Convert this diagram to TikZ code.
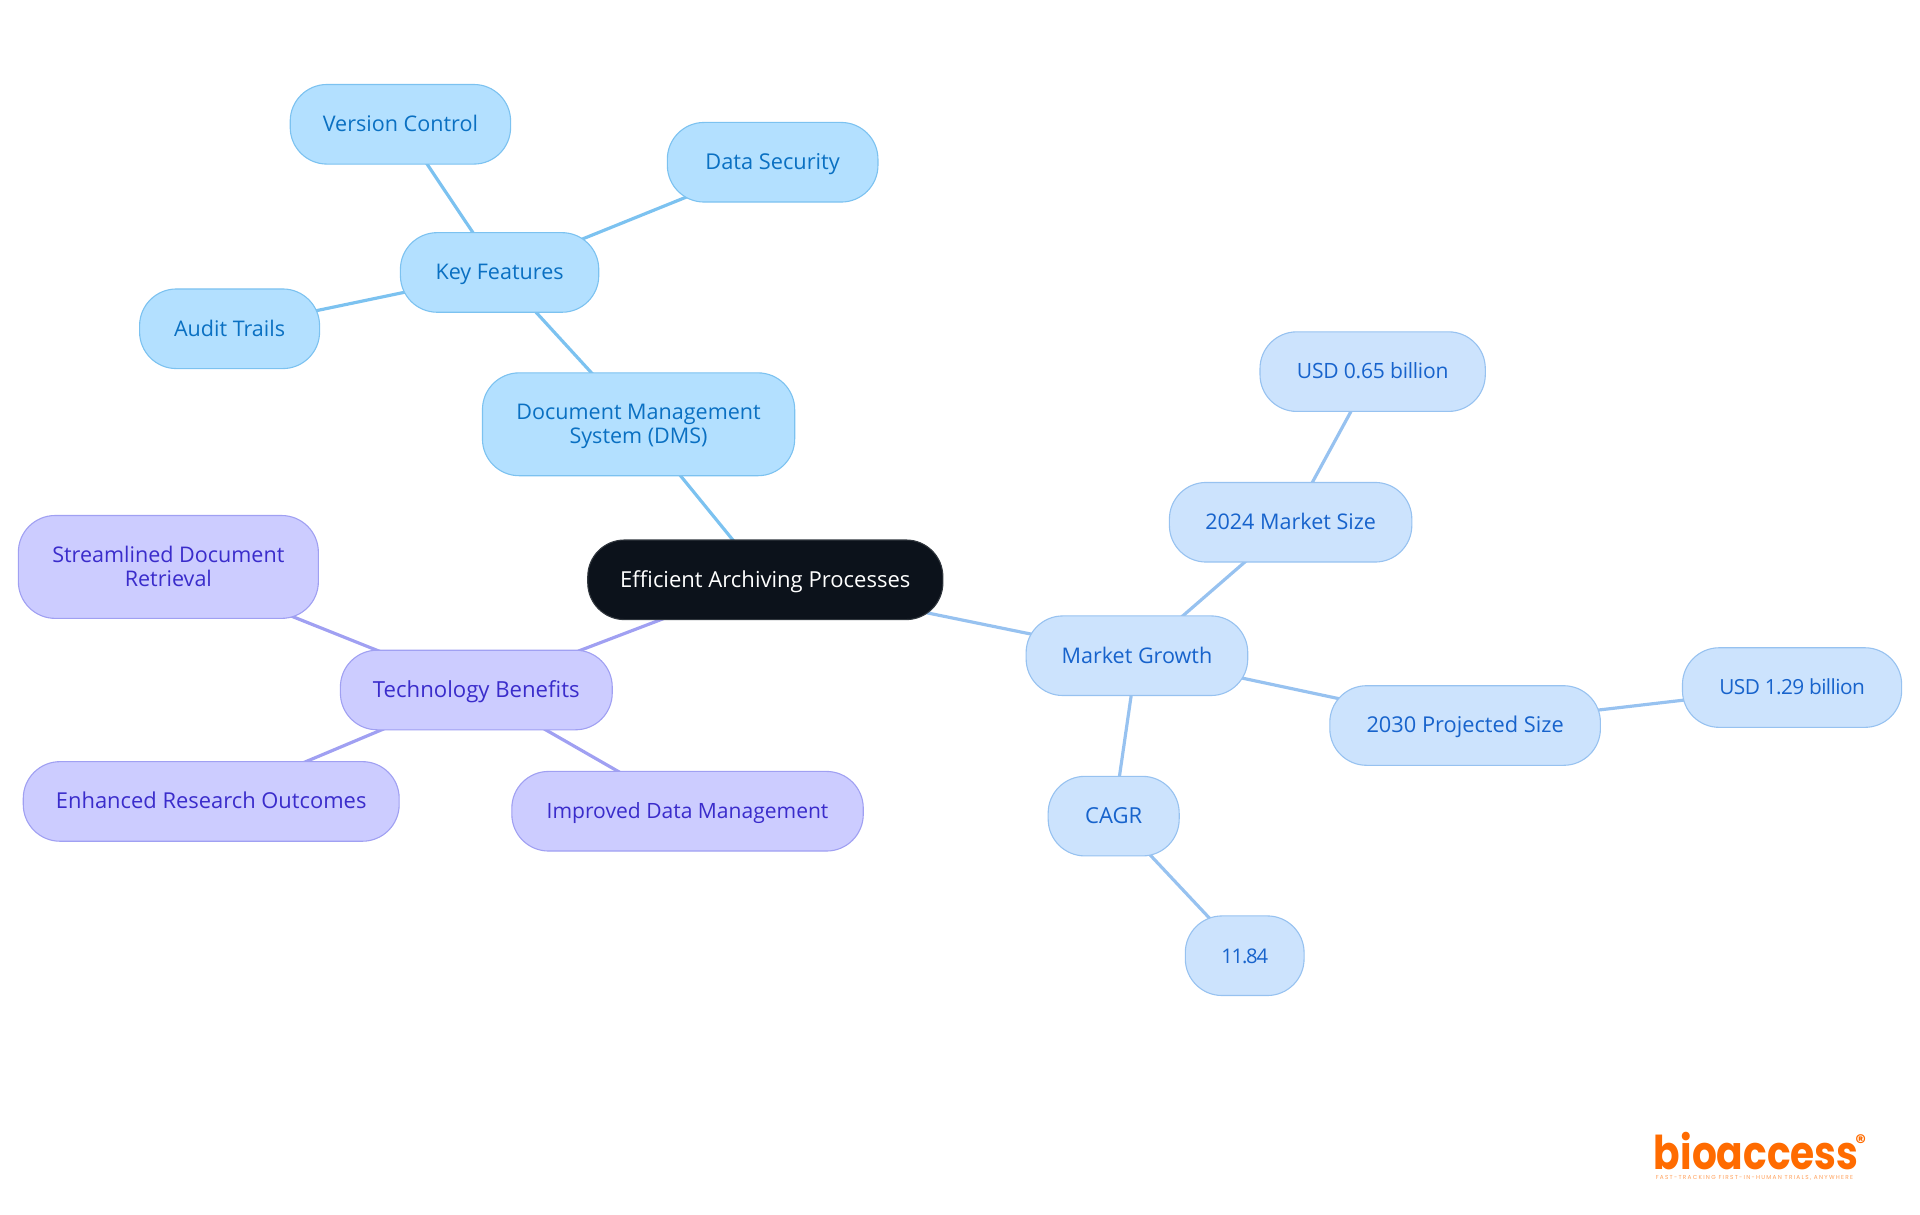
\documentclass[tikz,border=0pt]{standalone}
\usepackage{graphicx}
\usepackage{fontspec}
\setmainfont{Open Sans}
\newfontfamily\logofont{Poppins}
\newfontfamily\tagfont[LetterSpace=22]{Poppins}
\usetikzlibrary{backgrounds}
\definecolor{bfill}{HTML}{B3E0FF}\definecolor{bline}{HTML}{7CC2F0}\definecolor{btext}{HTML}{0A70C2}
\definecolor{mfill}{HTML}{CCE3FD}\definecolor{mline}{HTML}{97C2F0}\definecolor{mtext}{HTML}{1763CC}
\definecolor{pfill}{HTML}{CCCCFF}\definecolor{pline}{HTML}{A0A0F2}\definecolor{ptext}{HTML}{3A2CCB}
\definecolor{rootfill}{HTML}{0C121B}\definecolor{orangeb}{HTML}{FF6B00}
\tikzset{
 box/.style={rectangle,rounded corners=30pt,line width=0.9pt,align=center,inner sep=0pt,font=\fontsize{17.6}{19.2}\selectfont},
 bnode/.style={box,draw=bline,fill=bfill,text=btext},
 mnode/.style={box,draw=mline,fill=mfill,text=mtext},
 pnode/.style={box,draw=pline,fill=pfill,text=ptext},
 rootnode/.style={box,draw=rootfill!85!white,fill=rootfill,text=white},
 bedge/.style={draw=bline,line width=2.6pt},
 medge/.style={draw=mline,line width=2.6pt},
 pedge/.style={draw=pline,line width=2.6pt},
}
\newcommand{\mk}[7]{\node[#1,minimum width=#4pt-#3pt,minimum height=#6pt-#5pt] (#2) at ({(#3+#4)/2},{(#5+#6)/2}) {\rule{0pt}{17.5pt}#7\rule[-5.5pt]{0pt}{5.5pt}};}
\newcommand{\fz}[1]{\fontsize{#1}{19.2}\selectfont}
\newcommand{\ls}[1]{\addfontfeature{LetterSpace=#1}}
\begin{document}
\begin{tikzpicture}[x=1pt,y=-1pt]
\useasboundingbox (0,0) rectangle (1568,992.2);
\mk{rootnode}{root}{480}{770}{441}{506}{\fz{18}Efficient Archiving Processes}
\mk{bnode}{dms}{394}{649}{304.5}{388.5}{Document Management\\System (DMS)}
\mk{bnode}{key}{327}{489}{190}{255}{Key Features}
\mk{bnode}{ver}{237}{417}{69}{134}{Version Control}
\mk{bnode}{sec}{545}{717}{100}{165}{\fz{17.8}Data Security}
\mk{bnode}{aud}{114}{261}{236}{301}{Audit Trails}
\mk{pnode}{tech}{278}{500}{531}{596}{\fz{18.1}Technology Benefits}
\mk{pnode}{str}{15}{260}{421}{505}{Streamlined Document\\Retrieval}
\mk{pnode}{enh}{19}{326}{622}{687}{\fz{17.9}Enhanced Research Outcomes}
\mk{pnode}{imp}{418}{705}{630}{695}{\fz{17.2}Improved Data Management}
\mk{mnode}{mkt}{838}{1019}{503}{568}{Market Growth}
\mk{mnode}{y24}{955}{1153}{394}{459}{2024 Market Size}
\mk{mnode}{u65}{1029}{1213}{271}{336}{\fz{17.2}\ls{-1.2}USD 0.65 billion}
\mk{mnode}{y30}{1086}{1307}{560}{625}{\fz{17.8}2030 Projected Size}
\mk{mnode}{u129}{1374}{1553}{529}{594}{\fz{17}\ls{-2.8}USD 1.29 billion}
\mk{mnode}{cagr}{856}{963}{634}{699}{\fz{18}CAGR}
\mk{mnode}{val}{968}{1065}{748}{813}{\fz{16.5}\ls{-6}11.84}
\begin{scope}[on background layer]
\draw[bedge] (root.center)--(dms.center);
\draw[bedge] (dms.center)--(key.center);
\draw[bedge] (key.center)--(ver.center);
\draw[bedge] (key.center)--(sec.center);
\draw[bedge] (key.center)--(aud.center);
\draw[pedge] (root.center)--(tech.center);
\draw[pedge] (tech.center)--(str.center);
\draw[pedge] (tech.center)--(enh.center);
\draw[pedge] (tech.center)--(imp.center);
\draw[medge] (root.center)--(mkt.center);
\draw[medge] (mkt.center)--(y24.center);
\draw[medge] (y24.center)--(u65.center);
\draw[medge] (mkt.center)--(y30.center);
\draw[medge] (y30.center)--(u129.center);
\draw[medge] (mkt.center)--(cagr.center);
\draw[medge] (cagr.center)--(val.center);
\end{scope}
\node[anchor=base west,inner sep=0pt,text depth=0pt,text=orangeb,font=\logofont\bfseries\fontsize{38}{38}\selectfont] (logo) at (1350.5,955) {\scalebox{.84}[1]{bioaccess}};
\node[anchor=center,inner sep=0pt,text=orangeb,font=\logofont\bfseries\fontsize{17}{17}\selectfont] (reg) at (1519.5,932.5) {®};
\node[anchor=base west,inner sep=0pt,text=orangeb!65!white,font=\tagfont\fontsize{4.7}{5}\selectfont] (tag) at (1352,963) {FAST-TRACKING FIRST-IN-HUMAN TRIALS, ANYWHERE};
\end{tikzpicture}
\end{document}
